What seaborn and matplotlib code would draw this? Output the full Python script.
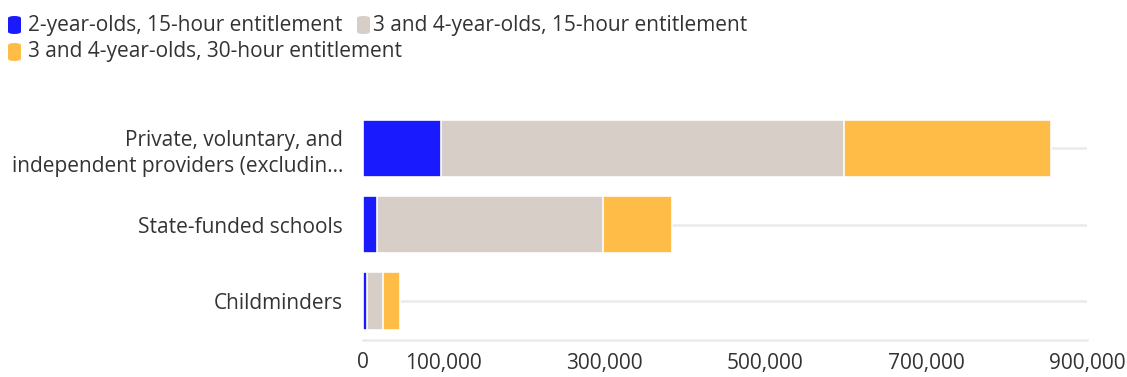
import pandas as pd
import numpy as np
import matplotlib.pyplot as plt
import seaborn as sns
from matplotlib.patches import FancyBboxPatch

# Dados
categories = ['Private, voluntary, and\nindependent providers (excludin…',
              'State-funded schools',
              'Childminders']
series_names = ['2-year-olds, 15-hour entitlement',
                '3 and 4-year-olds, 15-hour entitlement',
                '3 and 4-year-olds, 30-hour entitlement']
two_year_15h = [98000, 17800, 5100]
three_four_15h = [500000, 280500, 20500]
three_four_30h = [257000, 86700, 21200]
x_ticks = [0, 100000, 300000, 500000, 700000, 900000]
x_tick_labels = ['0', '100,000', '300,000', '500,000', '700,000', '900,000']

colors = ['#1a1aff', '#d7cec7', '#ffbc47']

df = pd.DataFrame({
    'category': categories,
    series_names[0]: two_year_15h,
    series_names[1]: three_four_15h,
    series_names[2]: three_four_30h,
})
# Somas acumuladas para empilhar
cum = df[series_names].cumsum(axis=1)

sns.set_style("white")
plt.rcParams['font.family'] = ['Open Sans', 'DejaVu Sans']
FS = 15

fig = plt.figure(figsize=(11.27, 3.77), dpi=100)
ax = fig.add_axes([362.5 / 1127, 1 - 340 / 377, (1087 - 362.5) / 1127, (340 - 110) / 377])

# Desenha do maior para o menor, para que os segmentos fiquem empilhados
for name, color in zip(series_names[::-1], colors[::-1]):
    sns.barplot(data=cum.assign(category=df['category']), x=name, y='category',
                color=color, orient='h', width=0.75, edgecolor='white',
                linewidth=1.2, saturation=1, ax=ax, zorder=3)

ax.set_xlim(0, 900000)
ax.set_ylim(2.51, -0.5)
ax.set_xticks(x_ticks)
ax.set_xticklabels(x_tick_labels)
ax.set_xlabel('')
ax.set_ylabel('')
ax.grid(axis='y', color='#ebebeb', linewidth=1.8, zorder=0)
ax.grid(axis='x', visible=False)
for side in ['top', 'right', 'left']:
    ax.spines[side].set_visible(False)
ax.spines['bottom'].set_color('#ebebeb')
ax.spines['bottom'].set_linewidth(1.8)
ax.tick_params(axis='both', length=0, labelsize=FS, labelcolor='#333333')
ax.tick_params(axis='y', pad=14)
ax.tick_params(axis='x', pad=9)
for lbl in ax.get_yticklabels():
    lbl.set_horizontalalignment('right')
    lbl.set_multialignment('right')
    lbl.set_linespacing(1.3)

# Legenda manual com marcadores arredondados
legend_items = [(8, 28, 25, 0), (357, 373, 25, 1), (8, 28, 52, 2)]
W, H = 1127, 377
for mx, tx, cy, i in legend_items:
    patch = FancyBboxPatch((mx / W, 1 - (cy + 9) / H), 13 / W, 18 / H,
                           boxstyle='round,pad=0,rounding_size=0.006',
                           transform=fig.transFigure, facecolor=colors[i],
                           edgecolor='none')
    fig.patches.append(patch)
    fig.text(tx / W, 1 - cy / H, series_names[i], ha='left', va='center',
             fontsize=FS, color='#333333')

fig.savefig('out.png', dpi=100)
